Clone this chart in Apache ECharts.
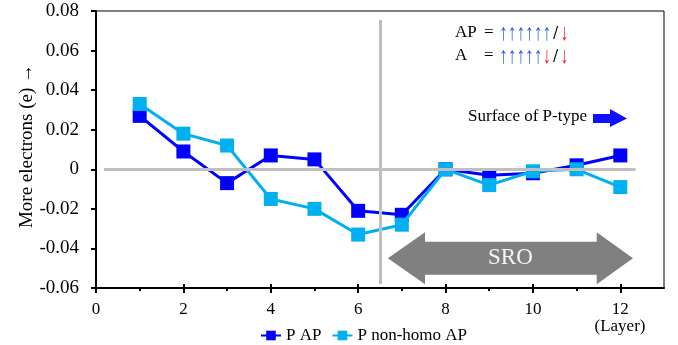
<!DOCTYPE html>
<html><head><meta charset="utf-8">
<script src="https://cdn.jsdelivr.net/npm/echarts@6/dist/echarts.min.js"></script>
<style>html,body{margin:0;padding:0;background:#fff}#c{width:678px;height:345px}</style>
</head><body><div id="c"></div>
<script>
// ---- data ----
const layers = [1, 2, 3, 4, 5, 6, 7, 8, 9, 10, 11, 12];
const pAP = [0.027, 0.009, -0.007, 0.007, 0.005, -0.021, -0.023, 0.000, -0.003, -0.002, 0.002, 0.007];
const pNonHomoAP = [0.033, 0.018, 0.012, -0.015, -0.020, -0.033, -0.028, 0.000, -0.008, -0.001, 0.000, -0.009];
const seriesNames = ['P AP', 'P non-homo AP'];
const yAxisTitle = 'More electrons (e) \u2192';
const xMajorTicks = [0, 2, 4, 6, 8, 10, 12];
const xMinorTicks = [1, 3, 5, 7, 9, 11];
const yRange = [-0.06, 0.08];
const yStep = 0.02;
const xRange = [0, 13];
const zeroLineSpan = [0.18, 12.35];
const boundaryX = 6.5;
const boundarySpan = [0.0755, -0.058];
const sroArrowX = [6.68, 7.53, 11.46, 12.29]; // tipL, headL, headR, tipR
const sroArrowY = -0.045;

const FONT = '"Liberation Serif","Times New Roman",serif';
const chart = echarts.init(document.getElementById('c'), null, {renderer: 'canvas'});

const mkPts = (ys) => layers.map((x, i) => [x, ys[i]]);

const option = {
  animation: false,
  textStyle: {fontFamily: FONT},
  grid: {left: 96, right: 14, top: 11, bottom: 57, show: true, borderColor: '#000', borderWidth: 1, backgroundColor: 'transparent'},
  xAxis: [
    {type: 'value', min: xRange[0], max: xRange[1], interval: 1,
     axisLine: {onZero: false, lineStyle: {color: '#000', width: 2}},
     axisTick: {customValues: xMajorTicks, length: 5, lineStyle: {color: '#000', width: 2}},
     axisLabel: {customValues: xMajorTicks, margin: 13, color: '#000', fontFamily: FONT, fontSize: 17},
     splitLine: {show: false}},
    {type: 'value', min: xRange[0], max: xRange[1], interval: 1, position: 'bottom',
     axisLine: {show: false, onZero: false},
     axisTick: {customValues: xMajorTicks, inside: true, length: 4, lineStyle: {color: '#000', width: 2}},
     axisLabel: {show: false}, splitLine: {show: false}},
    {type: 'value', min: xRange[0], max: xRange[1], interval: 1, position: 'bottom',
     axisLine: {show: false, onZero: false},
     axisTick: {customValues: xMinorTicks, length: 3, lineStyle: {color: '#000', width: 2}},
     axisLabel: {show: false}, splitLine: {show: false}}
  ],
  yAxis: {
    type: 'value', min: yRange[0], max: yRange[1], interval: yStep,
    axisLine: {show: true, onZero: false, lineStyle: {color: '#000', width: 2}},
    axisTick: {show: true, length: 5, lineStyle: {color: '#000', width: 2}},
    axisLabel: {margin: 17, color: '#000', fontFamily: FONT, fontSize: 19,
      formatter: v => Math.abs(v) < 1e-9 ? '0' : v.toFixed(2)},
    splitLine: {show: false}
  },
  legend: {
    data: seriesNames, left: 255, top: 322, itemWidth: 20, itemHeight: 12, itemGap: 10,
    textStyle: {fontFamily: FONT, fontSize: 17, color: '#000'}
  },
  series: [
    {type: 'line', name: 'ref', data: [], silent: true, z: 1,
     markLine: {silent: true, symbol: 'none', label: {show: false},
       lineStyle: {color: '#bfbfbf', width: 3, type: 'solid'},
       data: [
         [{coord: [zeroLineSpan[0], 0]}, {coord: [zeroLineSpan[1], 0]}],
         [{coord: [boundaryX, boundarySpan[0]]}, {coord: [boundaryX, boundarySpan[1]]}]
       ]}},
    {type: 'line', name: seriesNames[0], data: mkPts(pAP), symbol: 'rect', symbolSize: 14,
     lineStyle: {color: '#0000ff', width: 3}, itemStyle: {color: '#0000ff'}, z: 3},
    {type: 'line', name: seriesNames[1], data: mkPts(pNonHomoAP), symbol: 'rect', symbolSize: 14,
     lineStyle: {color: '#00b0f0', width: 3}, itemStyle: {color: '#00b0f0'}, z: 4}
  ]
};
chart.setOption(option);

function px(x, y) { return chart.convertToPixel({xAxisIndex: 0, yAxisIndex: 0}, [x, y]); }
const c = px(sroArrowX[0], sroArrowY);
const hL = px(sroArrowX[1], sroArrowY)[0];
const hR = px(sroArrowX[2], sroArrowY)[0];
const tR = px(sroArrowX[3], sroArrowY)[0];
const cy = c[1], bh = 16.5, hh = 26;
const blue = '#2a5be0', red = '#ee1c25';

// annotation glyph rows: [char, color]
const row1 = [['\u2191', blue], ['\u2191', blue], ['\u2191', blue], ['\u2191', blue], ['\u2191', blue], ['\u2191', blue], ['/', '#000'], ['\u2193', red]];
const row2 = [['\u2191', blue], ['\u2191', blue], ['\u2191', blue], ['\u2191', blue], ['\u2191', blue], ['\u2193', red], ['/', '#000'], ['\u2193', red]];
const glyphs = [];
function addRow(row, y) {
  row.forEach((g, i) => {
    glyphs.push({type: 'text', z: 6, x: 503.5 + i * 8.7, y: y,
      scaleY: g[0] === '/' ? 1.1 : 1.35, originX: 0, originY: 0,
      style: {text: g[0], fill: g[1], font: 'bold 17px ' + FONT, align: 'center', verticalAlign: 'middle'}});
  });
}
addRow(row1, 34);
addRow(row2, 57);

chart.setOption({
  graphic: [
    {type: 'text', z: 6, x: 27, y: 146, rotation: Math.PI / 2, style: {text: yAxisTitle, fill: '#000',
      font: '19px ' + FONT, align: 'center', verticalAlign: 'middle'}},
    {type: 'polygon', z: 5, shape: {points: [
      [c[0], cy], [hL, cy - hh], [hL, cy - bh], [hR, cy - bh], [hR, cy - hh], [tR, cy],
      [hR, cy + hh], [hR, cy + bh], [hL, cy + bh], [hL, cy + hh]]},
     style: {fill: '#808080'}},
    {type: 'text', z: 6, x: (c[0] + tR) / 2, y: cy, style: {text: 'SRO', fill: '#f5f5f5',
      font: '23px ' + FONT, align: 'center', verticalAlign: 'middle'}},
    {type: 'text', z: 6, x: 587, y: 117, style: {text: 'Surface of P-type', fill: '#000',
      font: '17px ' + FONT, align: 'right', verticalAlign: 'middle'}},
    {type: 'polygon', z: 6, shape: {points: [[593, 114], [610, 114], [610, 109], [627, 118.5], [610, 127], [610, 123], [593, 123]]},
     style: {fill: '#1010ff'}},
    {type: 'text', z: 6, x: 455, y: 33, style: {text: 'AP', fill: '#000', font: '17px ' + FONT, verticalAlign: 'middle'}},
    {type: 'text', z: 6, x: 484, y: 33, style: {text: '=', fill: '#000', font: '17px ' + FONT, verticalAlign: 'middle'}},
    {type: 'text', z: 6, x: 455, y: 56, style: {text: 'A', fill: '#000', font: '17px ' + FONT, verticalAlign: 'middle'}},
    {type: 'text', z: 6, x: 484, y: 56, style: {text: '=', fill: '#000', font: '17px ' + FONT, verticalAlign: 'middle'}},
    {type: 'text', z: 6, x: 620, y: 327, style: {text: '(Layer)', fill: '#000',
      font: '17px ' + FONT, align: 'center', verticalAlign: 'middle'}}
  ].concat(glyphs)
});
</script>
</body></html>
